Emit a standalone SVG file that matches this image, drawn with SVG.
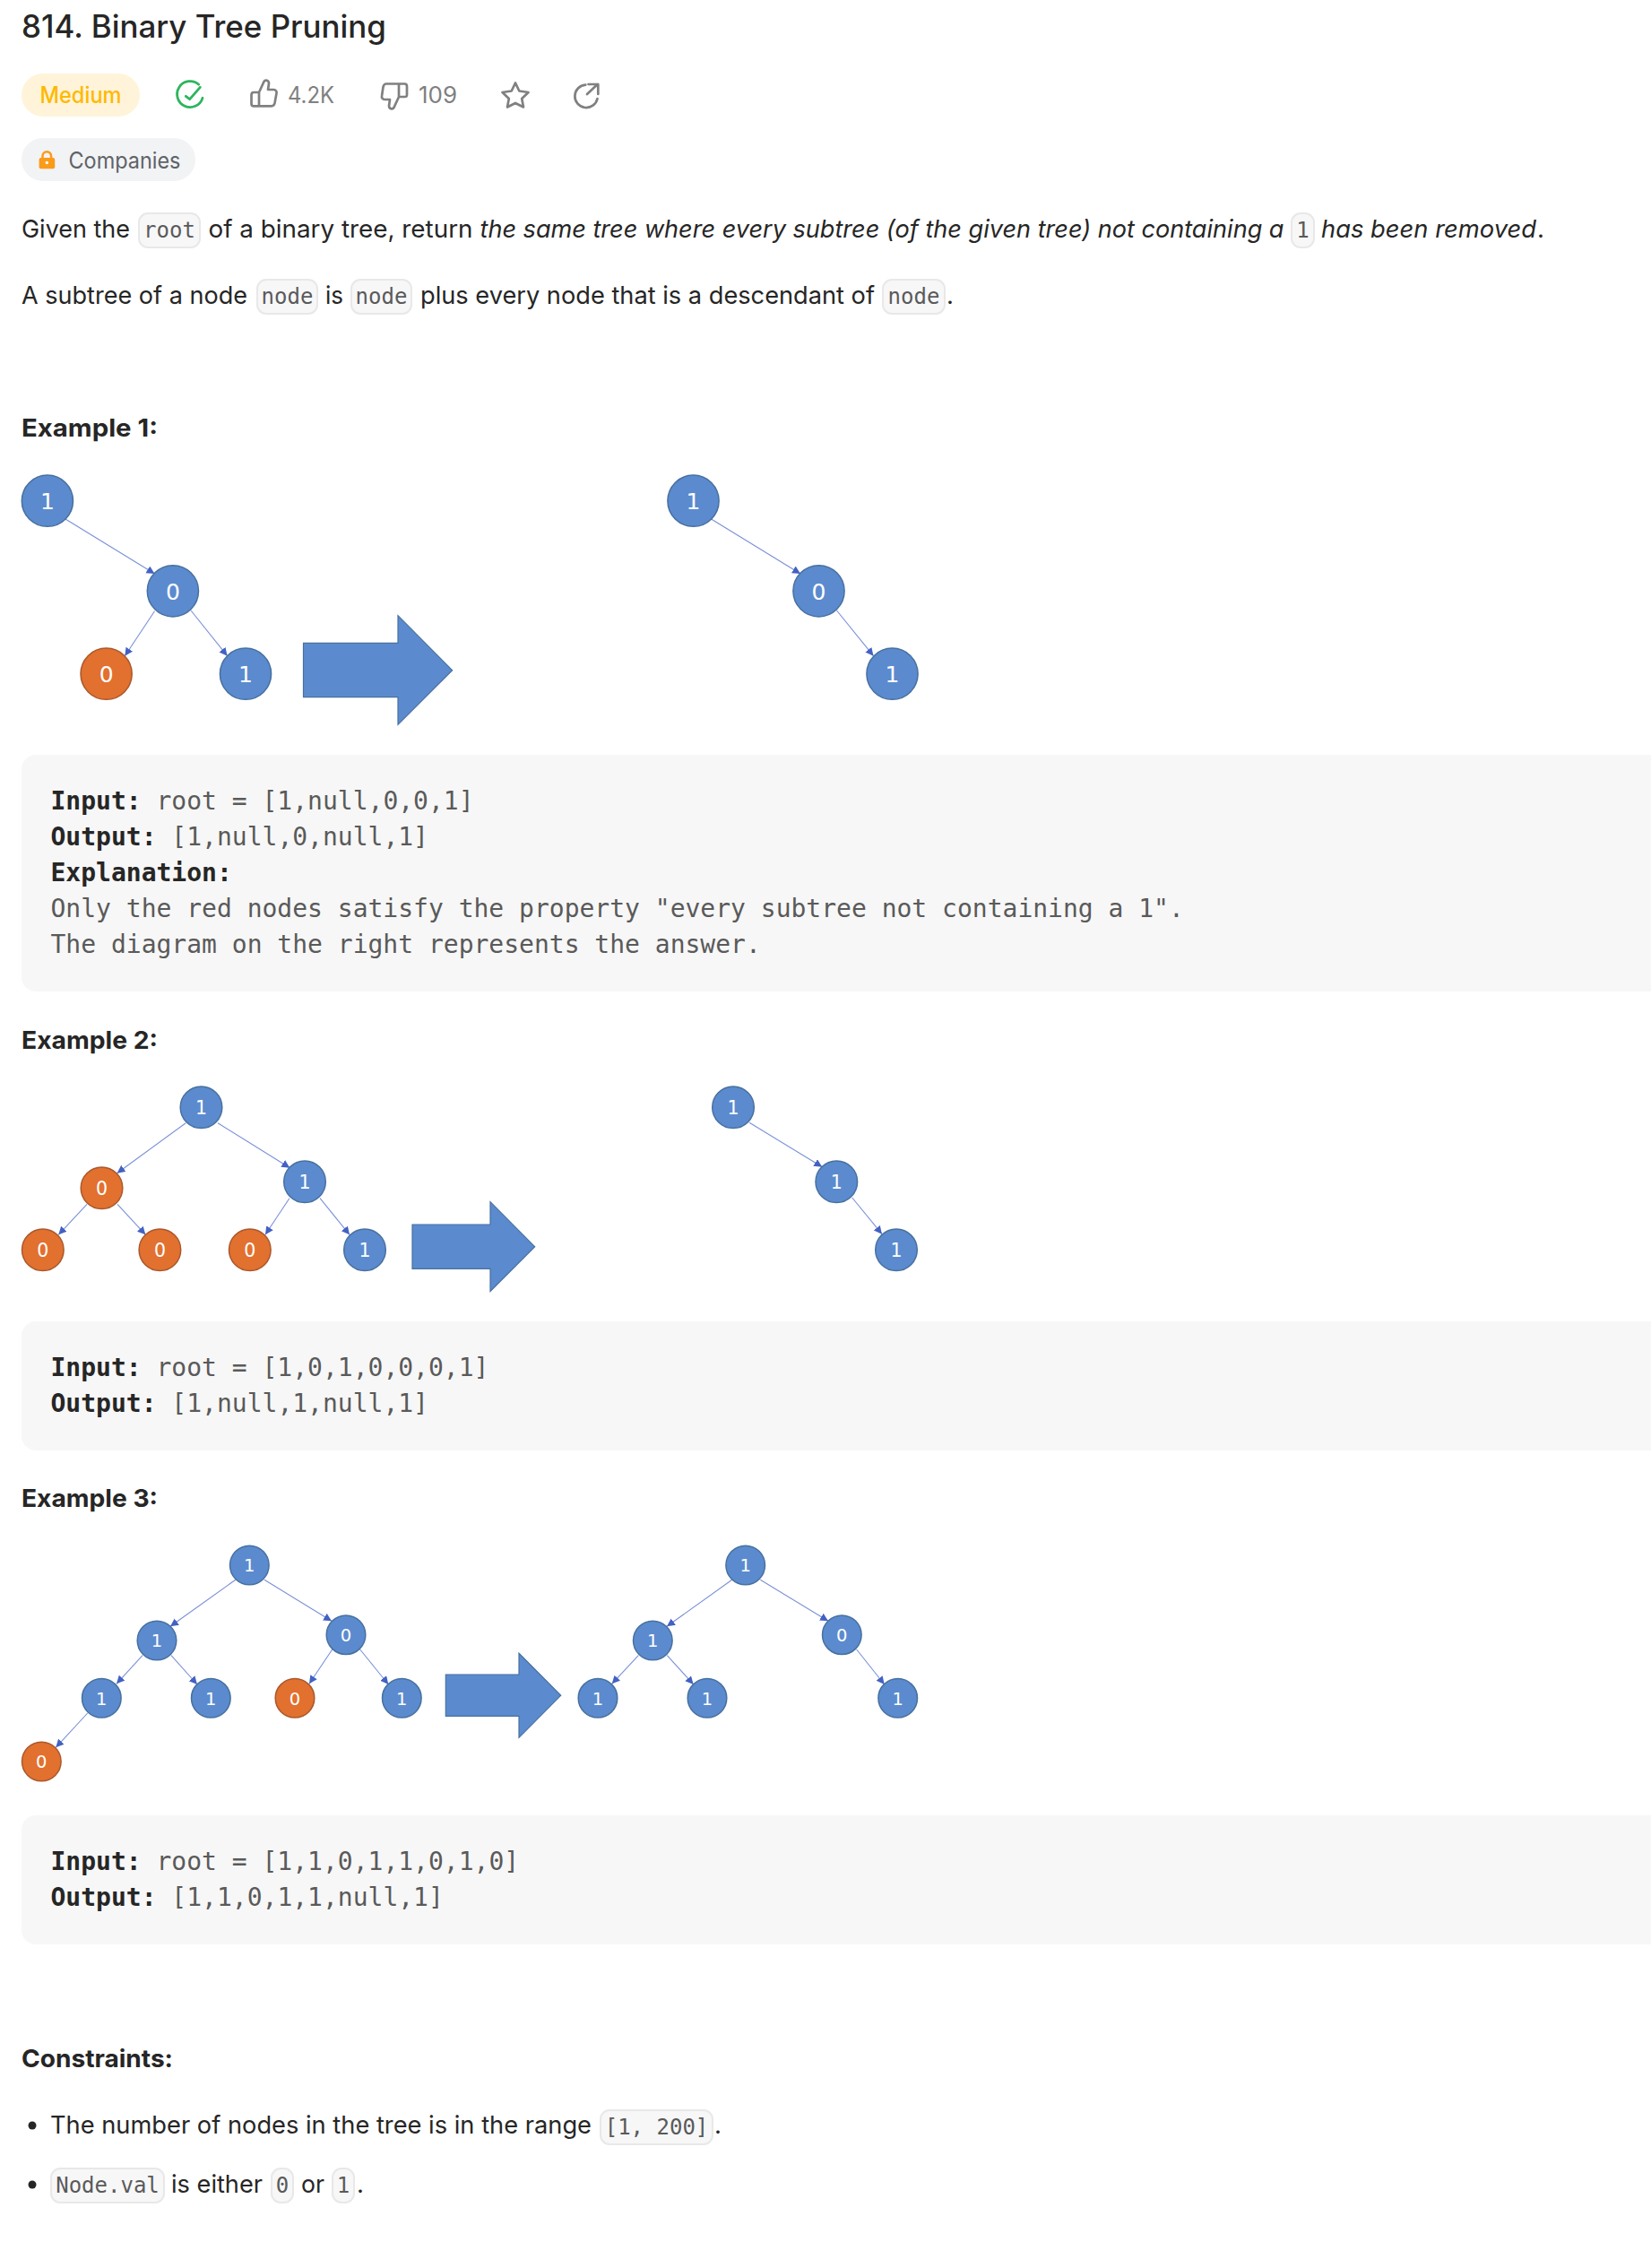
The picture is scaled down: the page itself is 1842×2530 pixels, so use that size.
<svg xmlns="http://www.w3.org/2000/svg" width="1842" height="2530" viewBox="0 0 1842 2530">
<defs>
<marker id="ah" markerUnits="userSpaceOnUse" markerWidth="12" markerHeight="12" refX="9" refY="4.500" orient="auto"><path d="M0 0L9 4.500L0 9Z" fill="#4361c4"/></marker>
</defs>
<style>
text{font-family:"Inter","Liberation Sans",sans-serif;font-size:27.5px;fill:#262626}
.i{font-style:italic}
.b{font-weight:700}
.m{font-family:"DejaVu Sans Mono","Liberation Mono",monospace;font-size:28px;fill:#5a5a5a}
.mb{font-weight:700;fill:#262626}
.c{font-family:"DejaVu Sans Mono","Liberation Mono",monospace;font-size:24px;fill:#5a5a5a;text-anchor:middle}
.chip{fill:#f7f7f8;stroke:#e8e8e8;stroke-width:2}
.block{fill:#f7f7f7}
.g{font-size:25.5px;fill:#808080}
.n{fill:#5b8bce;stroke:#47709f;stroke-width:1.5}
.o{fill:#e2702f;stroke:#a9582c;stroke-width:1.5}
.t{font-family:"DejaVu Sans","Open Sans",sans-serif;fill:#fff;text-anchor:middle}
.t1{font-size:25px}.t2{font-size:20.5px}.t3{font-size:19.5px}
.arr{fill:#5b8bce;stroke:#47709f;stroke-width:1.2}
#connectors line{stroke:#7a90d8;stroke-width:1.1;marker-end:url(#ah)}
.ic{fill:none;stroke:#808080;stroke-width:2.700;stroke-linejoin:round;stroke-linecap:round}
</style>
<rect width="1842" height="2530" fill="#fff"/>
<text x="24" y="42" textLength="407" lengthAdjust="spacingAndGlyphs" style="font-size:35px;font-weight:500">814. Binary Tree Pruning</text>
<rect x="24" y="82" width="132" height="48" rx="24" fill="#fff4d9"/>
<text x="44.500" y="115" textLength="91" lengthAdjust="spacingAndGlyphs" style="font-size:25px;font-weight:500;fill:#ffb800">Medium</text>
<g fill="none" stroke="#2db55d" stroke-width="2.800" stroke-linecap="round" stroke-linejoin="round"><path d="M221.700 94.200A14.500 14.500 0 1 0 226 109.300"/><path d="M207.300 107.300L211.700 110.700L223.300 97.300"/></g>
<path class="ic" d="M289 103L294.500 91C296 88.500 300 89.500 300 93L299 100H305.500C307.500 100 309 102 308.500 104L306.500 115C306 117 305 118.300 303 118.300H283C281 118.300 280.500 117.500 280.500 116V106C280.500 104 281 103 283 103H289V118.300"/>
<text x="321" y="115" textLength="52" lengthAdjust="spacingAndGlyphs" class="g">4.2K</text>
<path class="ic" d="M445 108L439.500 120C438 122.500 434 121.500 434 118L435 111H429C427 111 425.500 109 426 107L427.500 97C428 95 429 93.500 431 93.500H451.500C453.500 93.500 454 94.500 454 96.500V105.500C454 107.500 453.500 108 451.500 108H445V93.500"/>
<text x="467" y="115" textLength="43" lengthAdjust="spacingAndGlyphs" class="g">109</text>
<path class="ic" d="M575 92.500L579.300 101.500L589.500 103L582.200 110L584 119.500L575 115L566 119.500L567.800 110L560.500 103L570.700 101.500Z"/>
<path class="ic" d="M653.300 94.700A12.700 12.700 0 1 0 666.500 110M655 105L666.700 94M656.500 94H667.300V105"/>
<rect x="24" y="154" width="194" height="48" rx="24" fill="#f2f3f5"/>
<path d="M47.500 177V174a4.800 4.800 0 0 1 9.600 0V177" fill="none" stroke="#fa9b1a" stroke-width="2.500"/>
<rect x="43.600" y="176" width="17.600" height="12.300" rx="2" fill="#fa9b1a"/>
<circle cx="52.300" cy="181.500" r="1.700" fill="#fff"/>
<text x="76.500" y="188" textLength="125" lengthAdjust="spacingAndGlyphs" style="font-size:25px;fill:#5f6368">Companies</text>

<text x="24" y="265" textLength="121" lengthAdjust="spacingAndGlyphs">Given the</text>
<rect class="chip" x="155" y="238" width="68" height="38" rx="10"/><text class="c" x="189" y="265">root</text>
<text x="232.500" y="265" textLength="295" lengthAdjust="spacingAndGlyphs">of a binary tree, return</text>
<text x="535.500" y="265" class="i" textLength="897" lengthAdjust="spacingAndGlyphs">the same tree where every subtree (of the given tree) not containing a</text>
<rect class="chip" x="1441" y="238" width="25" height="38" rx="10"/><text class="c" x="1453.500" y="265">1</text>
<text x="1474" y="265" class="i" textLength="240" lengthAdjust="spacingAndGlyphs">has been removed</text><text x="1715" y="265">.</text>

<text x="24" y="339" textLength="252" lengthAdjust="spacingAndGlyphs">A subtree of a node</text>
<rect class="chip" x="287" y="312" width="67" height="38" rx="10"/><text class="c" x="320.500" y="339">node</text>
<text x="363" y="339" textLength="20" lengthAdjust="spacingAndGlyphs">is</text>
<rect class="chip" x="392" y="312" width="67" height="38" rx="10"/><text class="c" x="425.500" y="339">node</text>
<text x="469" y="339" textLength="507" lengthAdjust="spacingAndGlyphs">plus every node that is a descendant of</text>
<rect class="chip" x="985" y="312" width="69" height="38" rx="10"/><text class="c" x="1019.500" y="339">node</text>
<text x="1056" y="339">.</text>

<text x="24" y="487" class="b" textLength="152" lengthAdjust="spacingAndGlyphs">Example 1:</text>
<rect class="block" x="24" y="842" width="1900" height="264" rx="16"/>
<text x="56.500" y="903" class="m"><tspan class="mb">Input:</tspan> root = [1,null,0,0,1]</text>
<text x="56.500" y="943" class="m"><tspan class="mb">Output:</tspan> [1,null,0,null,1]</text>
<text x="56.500" y="983" class="m mb">Explanation:</text>
<text x="56.500" y="1023" class="m">Only the red nodes satisfy the property "every subtree not containing a 1".</text>
<text x="56.500" y="1063" class="m">The diagram on the right represents the answer.</text>

<text x="24" y="1169.500" class="b" textLength="152" lengthAdjust="spacingAndGlyphs">Example 2:</text>
<rect class="block" x="24" y="1474" width="1900" height="144" rx="16"/>
<text x="56.500" y="1535" class="m"><tspan class="mb">Input:</tspan> root = [1,0,1,0,0,0,1]</text>
<text x="56.500" y="1575" class="m"><tspan class="mb">Output:</tspan> [1,null,1,null,1]</text>

<text x="24" y="1680.500" class="b" textLength="152" lengthAdjust="spacingAndGlyphs">Example 3:</text>
<rect class="block" x="24" y="2025" width="1900" height="144" rx="16"/>
<text x="56.500" y="2086" class="m"><tspan class="mb">Input:</tspan> root = [1,1,0,1,1,0,1,0]</text>
<text x="56.500" y="2126" class="m"><tspan class="mb">Output:</tspan> [1,1,0,1,1,null,1]</text>

<text x="24" y="2306" class="b" textLength="169" lengthAdjust="spacingAndGlyphs">Constraints:</text>
<circle cx="36" cy="2371" r="4.500" fill="#262626"/>
<text x="56" y="2380" textLength="604" lengthAdjust="spacingAndGlyphs">The number of nodes in the tree is in the range</text>
<rect class="chip" x="670" y="2354" width="125" height="38" rx="10"/><text class="c" x="732.500" y="2381">[1, 200]</text>
<text x="797" y="2380">.</text>
<circle cx="36" cy="2437" r="4.500" fill="#262626"/>
<rect class="chip" x="57" y="2419" width="126" height="38" rx="10"/><text class="c" x="120" y="2446">Node.val</text>
<text x="191" y="2446" textLength="102" lengthAdjust="spacingAndGlyphs">is either</text>
<rect class="chip" x="303" y="2419" width="24" height="38" rx="10"/><text class="c" x="315" y="2446">0</text>
<text x="336" y="2446" textLength="26" lengthAdjust="spacingAndGlyphs">or</text>
<rect class="chip" x="371" y="2419" width="24" height="38" rx="10"/><text class="c" x="383" y="2446">1</text>
<text x="398" y="2446">.</text>

<g id="connectors">
<line x1="73" y1="579" x2="172.500" y2="640"/><line x1="172.500" y1="681.700" x2="139.300" y2="731.700"/><line x1="213" y1="681" x2="253.600" y2="731.700"/>
<line x1="793.500" y1="579" x2="893" y2="640"/><line x1="933.500" y1="681" x2="974.500" y2="731.700"/>
<line x1="207.300" y1="1252.700" x2="130.600" y2="1308.700"/><line x1="243" y1="1252.700" x2="323.300" y2="1302.700"/><line x1="97" y1="1343.300" x2="65.300" y2="1377.300"/><line x1="131" y1="1343.300" x2="162.400" y2="1377.300"/><line x1="322.900" y1="1336.700" x2="296" y2="1377.300"/><line x1="357" y1="1336.700" x2="390" y2="1377.300"/>
<line x1="836" y1="1252.300" x2="917.300" y2="1301.700"/><line x1="950.700" y1="1336" x2="984" y2="1376.700"/>
<line x1="262.700" y1="1762.300" x2="190" y2="1814.300"/><line x1="295" y1="1762.300" x2="370" y2="1808.300"/><line x1="159" y1="1846.700" x2="130" y2="1878.300"/><line x1="191" y1="1846.700" x2="220" y2="1879"/><line x1="370.700" y1="1840" x2="345" y2="1878.300"/><line x1="401.700" y1="1840" x2="433.300" y2="1879"/><line x1="97.700" y1="1911" x2="62.300" y2="1949.300"/>
<line x1="816.700" y1="1762.300" x2="744" y2="1814.300"/><line x1="848.300" y1="1762.300" x2="924" y2="1808.300"/><line x1="712.300" y1="1846.700" x2="682.700" y2="1878.300"/><line x1="744.300" y1="1846.700" x2="773.700" y2="1879"/><line x1="955.700" y1="1840" x2="986.700" y2="1879"/>
</g>
<g id="ex1-left">
<g id="e1n1"><circle class="n" cx="52.900" cy="558.700" r="28.600"/><text class="t t1" x="52.900" y="568.300">1</text></g>
<g id="e1n2"><circle class="n" cx="192.900" cy="659.300" r="28.600"/><text class="t t1" x="192.900" y="668.900">0</text></g>
<g id="e1n3"><circle class="o" cx="118.600" cy="751.700" r="28.600"/><text class="t t1" x="118.600" y="761.300">0</text></g>
<g id="e1n4"><circle class="n" cx="274" cy="751.700" r="28.600"/><text class="t t1" x="274" y="761.300">1</text></g>
<path id="e1arrow" class="arr" d="M338.500 717.300H444V686.700L504.600 747.700L444 808.300V777.700H338.500Z"/>
</g>
<g id="ex1-right">
<g id="e1r1"><circle class="n" cx="773.500" cy="558.700" r="28.600"/><text class="t t1" x="773.500" y="568.300">1</text></g>
<g id="e1r2"><circle class="n" cx="913.500" cy="659.300" r="28.600"/><text class="t t1" x="913.500" y="668.900">0</text></g>
<g id="e1r3"><circle class="n" cx="995.500" cy="751.700" r="28.600"/><text class="t t1" x="995.500" y="761.300">1</text></g>
</g>
<g id="ex2-left">
<g id="e2n1"><circle class="n" cx="224.500" cy="1235.300" r="23.300"/><text class="t t2" x="224.500" y="1243.300">1</text></g>
<g id="e2n2"><circle class="o" cx="113.500" cy="1325.300" r="23.300"/><text class="t t2" x="113.500" y="1333.300">0</text></g>
<g id="e2n3"><circle class="n" cx="340" cy="1318.300" r="23.300"/><text class="t t2" x="340" y="1326.300">1</text></g>
<g id="e2n4"><circle class="o" cx="47.800" cy="1394.300" r="23.300"/><text class="t t2" x="47.800" y="1402.300">0</text></g>
<g id="e2n5"><circle class="o" cx="178.400" cy="1394.300" r="23.300"/><text class="t t2" x="178.400" y="1402.300">0</text></g>
<g id="e2n6"><circle class="o" cx="278.800" cy="1394.300" r="23.300"/><text class="t t2" x="278.800" y="1402.300">0</text></g>
<g id="e2n7"><circle class="n" cx="407" cy="1394.300" r="23.300"/><text class="t t2" x="407" y="1402.300">1</text></g>
<path id="e2arrow" class="arr" d="M460 1366H547V1340.700L596.700 1390.700L547 1440.500V1415.300H460Z"/>
</g>
<g id="ex2-right">
<g id="e2r1"><circle class="n" cx="818" cy="1235.300" r="23.300"/><text class="t t2" x="818" y="1243.300">1</text></g>
<g id="e2r2"><circle class="n" cx="933.300" cy="1318.300" r="23.300"/><text class="t t2" x="933.300" y="1326.300">1</text></g>
<g id="e2r3"><circle class="n" cx="1000" cy="1394.300" r="23.300"/><text class="t t2" x="1000" y="1402.300">1</text></g>
</g>
<g id="ex3-left">
<g id="e3n1"><circle class="n" cx="278.300" cy="1746" r="21.800"/><text class="t t3" x="278.300" y="1753.300">1</text></g>
<g id="e3n2"><circle class="n" cx="175" cy="1830" r="21.800"/><text class="t t3" x="175" y="1837.300">1</text></g>
<g id="e3n3"><circle class="n" cx="386" cy="1823.700" r="21.800"/><text class="t t3" x="386" y="1831">0</text></g>
<g id="e3n4"><circle class="n" cx="113.300" cy="1894.300" r="21.800"/><text class="t t3" x="113.300" y="1901.600">1</text></g>
<g id="e3n5"><circle class="n" cx="235.300" cy="1894.300" r="21.800"/><text class="t t3" x="235.300" y="1901.600">1</text></g>
<g id="e3n6"><circle class="o" cx="329" cy="1894.300" r="21.800"/><text class="t t3" x="329" y="1901.600">0</text></g>
<g id="e3n7"><circle class="n" cx="448.300" cy="1894.300" r="21.800"/><text class="t t3" x="448.300" y="1901.600">1</text></g>
<g id="e3n8"><circle class="o" cx="46.300" cy="1965" r="21.800"/><text class="t t3" x="46.300" y="1972.300">0</text></g>
<path id="e3arrow" class="arr" d="M497.300 1868H579V1844.300L625.700 1891.300L579 1938.300V1914.300H497.300Z"/>
</g>
<g id="ex3-right">
<g id="e3r1"><circle class="n" cx="831.700" cy="1746" r="21.800"/><text class="t t3" x="831.700" y="1753.300">1</text></g>
<g id="e3r2"><circle class="n" cx="728.300" cy="1830" r="21.800"/><text class="t t3" x="728.300" y="1837.300">1</text></g>
<g id="e3r3"><circle class="n" cx="939.300" cy="1823.700" r="21.800"/><text class="t t3" x="939.300" y="1831">0</text></g>
<g id="e3r4"><circle class="n" cx="667" cy="1894.300" r="21.800"/><text class="t t3" x="667" y="1901.600">1</text></g>
<g id="e3r5"><circle class="n" cx="789" cy="1894.300" r="21.800"/><text class="t t3" x="789" y="1901.600">1</text></g>
<g id="e3r6"><circle class="n" cx="1001.700" cy="1894.300" r="21.800"/><text class="t t3" x="1001.700" y="1901.600">1</text></g>
</g>
</svg>
